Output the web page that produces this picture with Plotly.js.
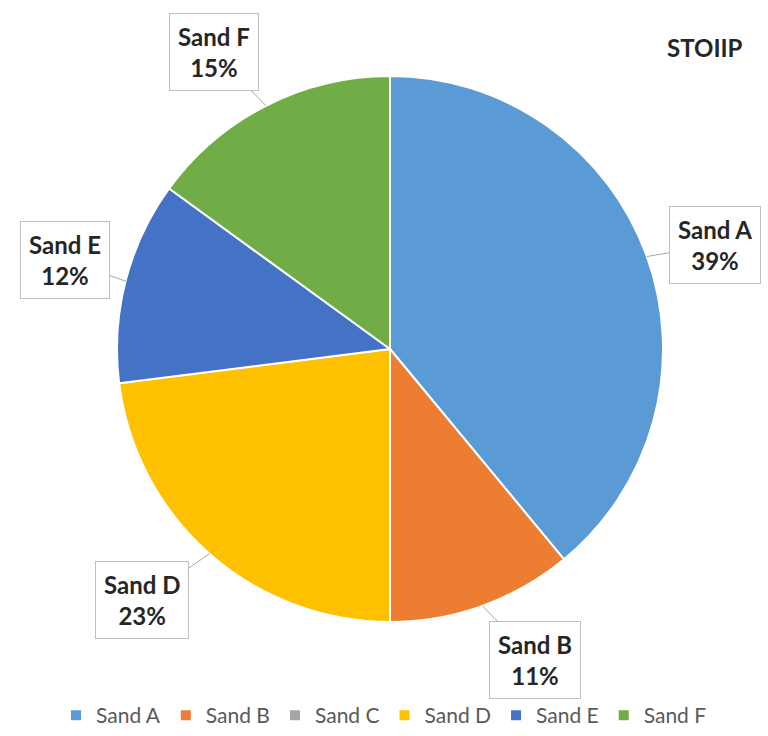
<!DOCTYPE html>
<html><head><meta charset="utf-8">
<script src="https://cdn.plot.ly/plotly-3.0.1.min.js"></script>
<style>html,body{margin:0;padding:0;background:#fff}#chart{width:768px;height:736px}</style>
</head><body><div id="chart"></div>
<script>
const labels = ["Sand A","Sand B","Sand C","Sand D","Sand E","Sand F"];
const values = [39, 11, 0, 23, 12, 15];
const colors = ["#5B9BD5","#ED7D31","#A5A5A5","#FFC000","#4472C4","#70AD47"];
const chartTitle = "STOIIP";

const W = 768, H = 736;
const cx = 390, cy = 349, R = 273;
// callout box centres
const boxPos = {"Sand A":[715,245],"Sand B":[535,660],"Sand D":[142,600],"Sand E":[65,260],"Sand F":[214,52]};

const total = values.reduce((a,b)=>a+b,0);
let cum = 0;
const annotations = [];
labels.forEach((lab,i)=>{
  const v = values[i];
  const mid = (cum + v/2)/total*2*Math.PI;
  cum += v;
  if (v === 0) return;
  const tx = cx + R*Math.sin(mid), ty = cy - R*Math.cos(mid);
  const b = boxPos[lab];
  annotations.push({
    x: tx/W, y: 1 - ty/H, xref:'paper', yref:'paper',
    ax: b[0]-tx, ay: b[1]-ty, axref:'pixel', ayref:'pixel',
    showarrow:true, arrowhead:0, arrowwidth:1, arrowcolor:'#A6A6A6', standoff:0,
    text: '<b>'+lab+'</b><br><b>'+Math.round(v/total*100)+'%</b>',
    font:{family:'Lato, "Open Sans", sans-serif', size:24, color:'#262626'},
    bgcolor:'#FFFFFF', bordercolor:'#BFBFBF', borderwidth:1, borderpad:8, align:'center'
  });
});
annotations.push({
  x: 705/W, y: 1-47/H, xref:'paper', yref:'paper', xanchor:'center', yanchor:'middle', showarrow:false,
  text:'<b>'+chartTitle+'</b>', font:{family:'Lato, "Open Sans", sans-serif', size:24, color:'#262626'}
});

const trace = {
  type:'pie', labels:labels, values:values, sort:false, direction:'clockwise', rotation:0,
  marker:{colors:colors, line:{color:'#FFFFFF', width:2}},
  textinfo:'none', hoverinfo:'label+percent',
  domain:{x:[(cx-R)/W,(cx+R)/W], y:[1-(cy+R)/H, 1-(cy-R)/H]}
};

const layout = {
  width:W, height:H, margin:{l:0,r:0,t:0,b:0},
  paper_bgcolor:'#FFFFFF', plot_bgcolor:'#FFFFFF',
  showlegend:true,
  legend:{orientation:'h', x:0.5, xanchor:'center', y:0.0, yanchor:'bottom',
    font:{family:'Lato, "Open Sans", sans-serif', size:21, color:'#595959'}, itemwidth:30, traceorder:'normal'},
  annotations:annotations
};
Plotly.newPlot('chart',[trace],layout,{displayModeBar:false,staticPlot:true});
</script></body></html>
